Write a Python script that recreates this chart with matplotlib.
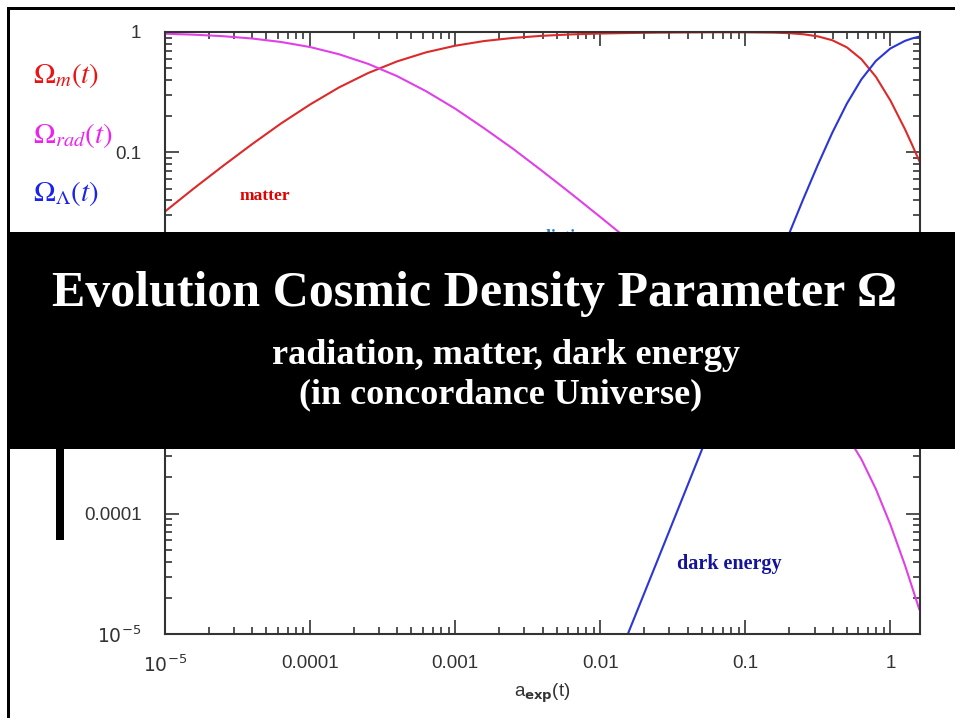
import matplotlib
matplotlib.use("Agg")
import matplotlib.pyplot as plt
from matplotlib.patches import Rectangle
from matplotlib.ticker import FixedLocator, FixedFormatter, LogLocator, NullFormatter

W, H = 955, 718

# expansion factor and density parameters
a_exp = [1.0e-5, 1.58e-5, 2.51e-5, 3.98e-5, 6.31e-5, 1.0e-4, 1.58e-4, 2.51e-4,
         3.98e-4, 6.31e-4, 1.0e-3, 1.58e-3, 2.51e-3, 3.98e-3, 6.31e-3, 0.01,
         0.0158, 0.0251, 0.0398, 0.0631, 0.1, 0.158, 0.2, 0.251, 0.316, 0.398,
         0.501, 0.631, 0.794, 1.0, 1.26, 1.41, 1.58]
omega_m = [0.0323, 0.0502, 0.0772, 0.117, 0.174, 0.250, 0.346, 0.456, 0.570,
           0.678, 0.769, 0.841, 0.893, 0.930, 0.955, 0.971, 0.981, 0.988,
           0.992, 0.995, 0.994, 0.988, 0.978, 0.958, 0.920, 0.854, 0.746,
           0.595, 0.425, 0.270, 0.156, 0.116, 0.085]
omega_rad = [0.968, 0.950, 0.923, 0.883, 0.826, 0.750, 0.654, 0.544, 0.430,
             0.322, 0.231, 0.159, 0.107, 0.0701, 0.0454, 0.0291, 0.0186,
             0.0118, 0.00748, 0.00473, 0.00298, 0.00187, 0.00147, 0.00114,
             8.73e-4, 6.43e-4, 4.46e-4, 2.83e-4, 1.60e-4, 8.1e-5, 3.73e-5,
             2.46e-5, 1.61e-5]
omega_de = [8.7e-17, 5.4e-16, 3.3e-15, 2.0e-14, 1.18e-13, 6.8e-13, 3.7e-12,
            1.95e-11, 9.7e-11, 4.6e-10, 2.1e-9, 9.0e-9, 3.8e-8, 1.6e-7, 6.5e-7,
            2.6e-6, 1.06e-5, 4.23e-5, 1.69e-4, 6.75e-4, 2.69e-3, 0.0106,
            0.0210, 0.0410, 0.0787, 0.146, 0.254, 0.404, 0.575, 0.730, 0.844,
            0.884, 0.915]

major_ticks = [1e-5, 1e-4, 1e-3, 1e-2, 1e-1, 1]
x_labels = [r"$10^{-5}$", "0.0001", "0.001", "0.01", "0.1", "1"]
# 0.001 and 0.01 sit behind the title banner
y_labels = [r"$10^{-5}$", "0.0001", "", "", "0.1", "1"]

RED = "#dc2a2a"
MAGENTA = "#e040e6"
BLUE = "#2a36d8"


def fx(px):
    return px / W


def fy(py):
    return 1 - py / H


fig = plt.figure(figsize=(W / 100, H / 100), dpi=100)
fig.patch.set_facecolor("white")

ax = fig.add_axes([fx(165), fy(634), fx(920) - fx(165), fy(32) - fy(634)])
ax.plot(a_exp, omega_m, color=RED, lw=1.5)
ax.plot(a_exp, omega_rad, color=MAGENTA, lw=1.5)
ax.plot(a_exp, omega_de, color=BLUE, lw=1.5)

ax.set_xscale("log")
ax.set_yscale("log")
ax.set_xlim(1e-5, 1.6)
ax.set_ylim(1e-5, 1.0)

for axis, labels in ((ax.xaxis, x_labels), (ax.yaxis, y_labels)):
    axis.set_major_locator(FixedLocator(major_ticks))
    axis.set_major_formatter(FixedFormatter(labels))
    axis.set_minor_locator(LogLocator(base=10, subs=range(2, 10), numticks=20))
    axis.set_minor_formatter(NullFormatter())

ax.tick_params(which="both", direction="in", top=True, right=True,
               color="#333333", width=1.2)
ax.tick_params(which="major", length=10, labelsize=13.5, labelcolor="#333333")
ax.tick_params(axis="x", which="major", pad=15)
ax.tick_params(axis="y", which="major", pad=17)
ax.tick_params(which="minor", length=5)
for lab in ax.get_xticklabels() + ax.get_yticklabels():
    lab.set_fontfamily("Liberation Sans")
for sp in ax.spines.values():
    sp.set_color("#333333")
    sp.set_linewidth(1.5)

ax.set_xlabel(r"a$_{\mathbf{exp}}$(t)", fontsize=13.5, family="Liberation Sans",
              labelpad=4, color="#333333")

# curve legends on the left
fig.text(fx(33), fy(76), r"$\Omega_m(t)$", color="#ee1111", fontsize=21,
         math_fontfamily="stix", va="center", ha="left")
fig.text(fx(33), fy(135), r"$\Omega_{rad}(t)$", color="#ee22ee", fontsize=21,
         math_fontfamily="stix", va="center", ha="left")
fig.text(fx(33), fy(194), r"$\Omega_{\Lambda}(t)$", color="#1a22ee", fontsize=21,
         math_fontfamily="stix", va="center", ha="left")

# inline labels
fig.text(fx(265), fy(196), "matter", color="#e00000", fontsize=12.5,
         family="Liberation Serif", weight="bold", ha="center", va="center")
fig.text(fx(560), fy(237), "radiation", color="#2f7fd0", fontsize=12.5,
         family="Liberation Serif", weight="bold", ha="center", va="center", zorder=5)
fig.text(fx(729), fy(564), "dark energy", color="#14149a", fontsize=14.5,
         family="Liberation Serif", weight="bold", ha="center", va="center")

# slide decorations
fig.add_artist(Rectangle((fx(8), fy(449)), fx(955) - fx(8), fy(232) - fy(449),
                         transform=fig.transFigure, facecolor="black",
                         edgecolor="none", zorder=10))
fig.add_artist(Rectangle((fx(56), fy(540)), fx(8), fy(449) - fy(540),
                         transform=fig.transFigure, facecolor="black",
                         edgecolor="none", zorder=10))
fig.add_artist(Rectangle((fx(7), fy(718)), fx(3), fy(7) - fy(718),
                         transform=fig.transFigure, facecolor="black",
                         edgecolor="none", zorder=10))
fig.add_artist(Rectangle((fx(7), fy(10)), fx(955) - fx(7), fy(7) - fy(10),
                         transform=fig.transFigure, facecolor="black",
                         edgecolor="none", zorder=10))

fig.text(fx(474), fy(294), "Evolution Cosmic Density Parameter \u03a9", color="white",
         fontsize=36, family="Liberation Serif", weight="bold",
         ha="center", va="center", zorder=11)
fig.text(fx(506), fy(355), "radiation, matter, dark energy", color="white",
         fontsize=26, family="Liberation Serif", weight="bold",
         ha="center", va="center", zorder=11)
fig.text(fx(501), fy(395), "(in concordance Universe)", color="white",
         fontsize=26, family="Liberation Serif", weight="bold",
         ha="center", va="center", zorder=11)

fig.savefig("out.png", dpi=100)
